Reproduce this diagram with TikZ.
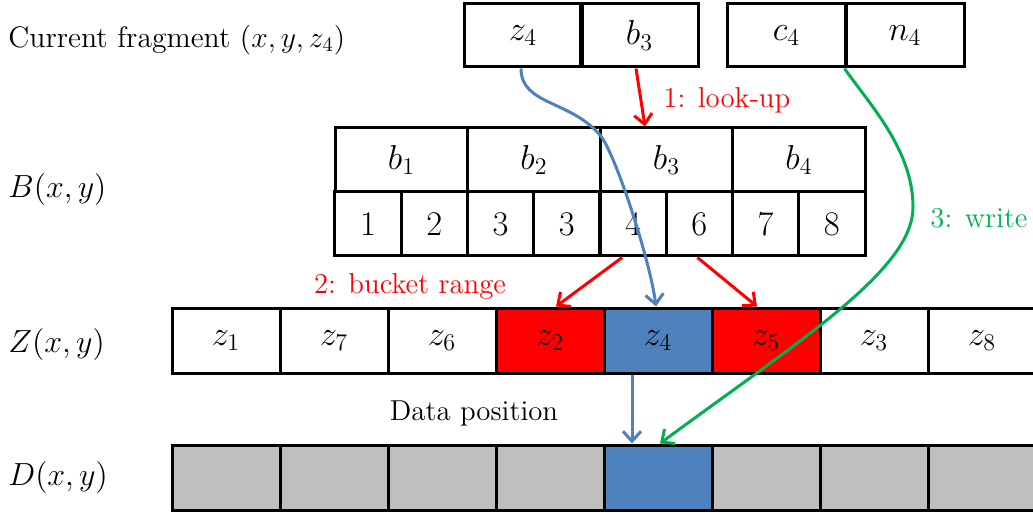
\documentclass[tikz,border=0pt]{standalone}
\usetikzlibrary{arrows.meta}
\definecolor{myred}{RGB}{255,0,0}
\definecolor{myblue}{RGB}{79,129,189}
\definecolor{mygreen}{RGB}{0,176,80}
\definecolor{mygray}{RGB}{191,191,191}
\begin{document}
\begin{tikzpicture}[x=0.5pt,y=-0.5pt,
  cell/.style={draw,line width=1.5pt,inner sep=0pt,font=\LARGE},
  topcell/.style={cell,minimum width=59pt,minimum height=31.5pt},
  bcell/.style={cell,minimum width=66.25pt,minimum height=32pt},
  ncell/.style={cell,minimum width=33.125pt,minimum height=32pt},
  zcell/.style={cell,minimum width=54pt,minimum height=32.5pt},
  lbl/.style={font=\Large,inner sep=0pt,anchor=west},
  rowlbl/.style={lbl,scale=1.11,transform shape},
  arr/.style={line width=1.5pt,-{Straight Barb[length=5pt,width=9pt,line width=1.5pt]}}
]
\useasboundingbox (0,0) rectangle (1033,513);
% row labels
\node[lbl,scale=1.03,transform shape] (lcur) at (8,40) {Current fragment $(x,y,z_4)$};
\node[rowlbl] (lB) at (8,190) {$B(x,y)$};
\node[rowlbl] (lZ) at (8,345) {$Z(x,y)$};
\node[rowlbl] (lD) at (8,478) {$D(x,y)$};
% current fragment
\node[topcell] (zc) at (523,35.5) {$z_4$};
\node[topcell] (bc) at (639.5,35.5) {$b_3$};
\node[topcell] (cc) at (786.5,35.5) {$c_4$};
\node[topcell] (nc) at (905,35.5) {$n_4$};
% B table
\node[bcell] (bb1) at (401.5,160) {$b_1$};
\node[bcell] (bb2) at (534,160) {$b_2$};
\node[bcell] (bb3) at (666.5,160) {$b_3$};
\node[bcell] (bb4) at (799,160) {$b_4$};
\node[ncell] (n1) at (368.1,224) {$1$};
\node[ncell] (n2) at (434.4,224) {$2$};
\node[ncell] (n3) at (500.6,224) {$3$};
\node[ncell] (n4) at (566.9,224) {$3$};
\node[ncell] (n5) at (633.1,224) {$4$};
\node[ncell] (n6) at (699.4,224) {$6$};
\node[ncell] (n7) at (765.6,224) {$7$};
\node[ncell] (n8) at (831.9,224) {$8$};
% Z row
\node[zcell] (z1) at (226,340.5) {$z_1$};
\node[zcell] (z2) at (334,340.5) {$z_7$};
\node[zcell] (z3) at (442,340.5) {$z_6$};
\node[zcell,fill=myred] (z4) at (550,340.5) {$z_2$};
\node[zcell,fill=myblue] (z5) at (658,340.5) {$z_4$};
\node[zcell,fill=myred] (z6) at (766,340.5) {$z_5$};
\node[zcell] (z7) at (874,340.5) {$z_3$};
\node[zcell] (z8) at (982,340.5) {$z_8$};
% D row
\node[zcell,fill=mygray] (d1) at (226,477.5) {};
\node[zcell,fill=mygray] (d2) at (334,477.5) {};
\node[zcell,fill=mygray] (d3) at (442,477.5) {};
\node[zcell,fill=mygray] (d4) at (550,477.5) {};
\node[zcell,fill=myblue] (d5) at (658,477.5) {};
\node[zcell,fill=mygray] (d6) at (766,477.5) {};
\node[zcell,fill=mygray] (d7) at (874,477.5) {};
\node[zcell,fill=mygray] (d8) at (982,477.5) {};
% text labels
\node[lbl,text=myred] (t1) at (663,100) {1: look-up};
\node[font=\Large,text=myred,inner sep=0pt] (t2) at (410,286) {2: bucket range};
\node[lbl,text=mygreen] (t3) at (930,218) {3: write};
\node[font=\Large,inner sep=0pt] (t4) at (474,413) {Data position};
% arrows
\draw[arr,myred] ([xshift=-1.75pt]bc.south) -- ([xshift=-10.75pt]bb3.north);
\draw[arr,myred] ([xshift=-5.5pt]n5.south) -- ([xshift=3pt]z4.north);
\draw[arr,myred] ([xshift=-1pt]n6.south) -- ([xshift=-4.5pt]z6.north);
\draw[arr,myblue] ([xshift=-1pt]zc.south) .. controls (521,105) and (570,100) .. (600,135)
   .. controls (615,152.5) and (650,260) .. ([xshift=-1pt]z5.north);
\draw[arr,myblue] ([xshift=-13pt]z5.south) -- ([xshift=-13pt]d5.north);
\draw[arr,mygreen] (nc.south west) .. controls (870,105) and (913,150) .. (913,207)
   .. controls (913,270) and (800,340) .. ([xshift=1pt]d5.north);
\end{tikzpicture}
\end{document}
